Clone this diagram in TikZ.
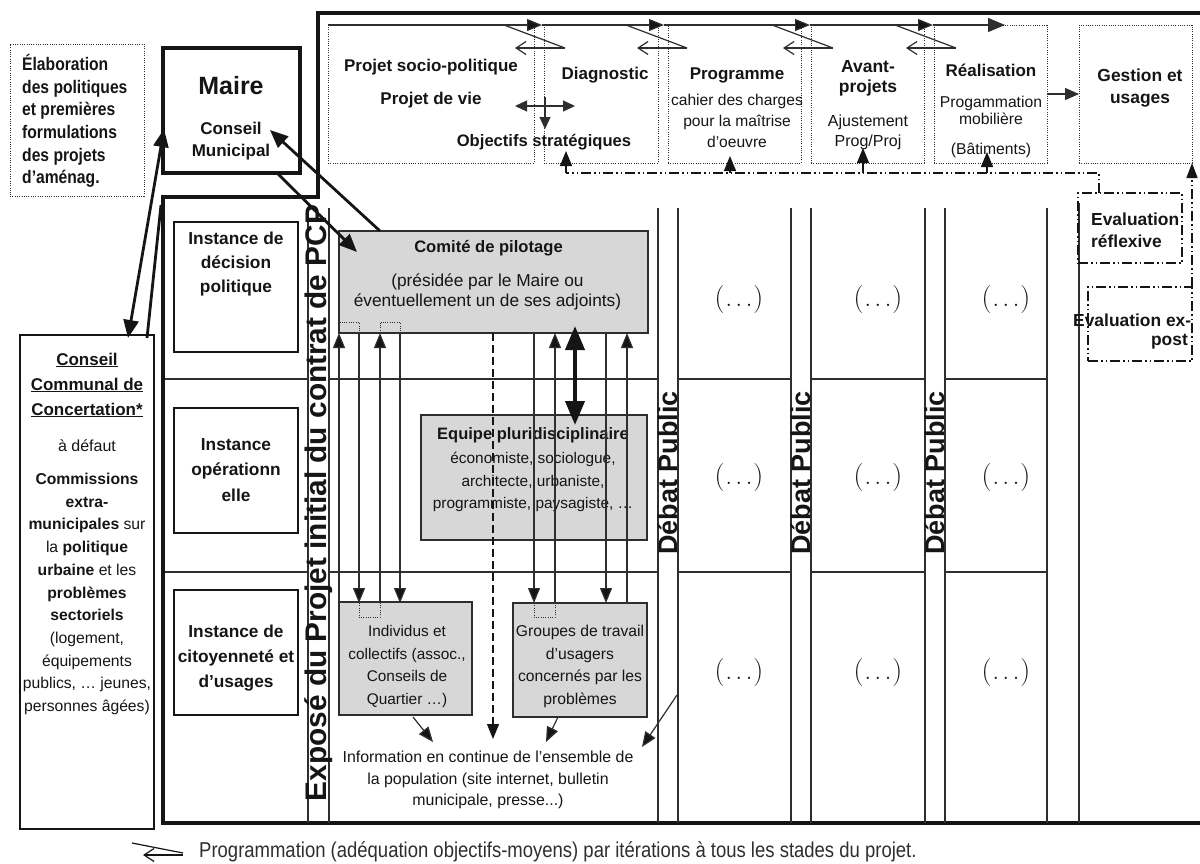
\documentclass[tikz,border=0pt]{standalone}
\usepackage{fontspec}
\setmainfont{Liberation Sans}
\newfontfamily\narrowsf[FakeStretch=0.86]{Liberation Sans}
\newfontfamily\lmroman{Latin Modern Roman}
\usetikzlibrary{arrows.meta,calc}
\definecolor{ink}{HTML}{151515}
\definecolor{rule}{HTML}{2E2E2E}
\definecolor{boxgray}{HTML}{D7D7D7}
\newcommand\fsz[2]{\fontsize{#1pt}{#2pt}\selectfont}
\newcommand\etc{(\kern1pt.\kern3pt.\kern3pt.\kern1pt)}
\begin{document}
\begin{tikzpicture}[x=1pt,y=-1pt,
  frame/.style={draw=ink,line width=4.5pt,line join=miter},
  thinline/.style={draw=rule,line width=1.2pt},
  dotbox/.style={draw=rule,line width=0.9pt,dash pattern=on 1pt off 1.3pt},
  dashdot/.style={draw=ink,line width=1.5pt,dash pattern=on 10pt off 3pt on 1.5pt off 3pt on 1.5pt off 3pt},
  graybox/.style={draw=rule,fill=boxgray,line width=1.2pt},
  plainbox/.style={draw=ink,line width=1.3pt},
  tip/.style={-{Triangle[length=15pt,width=12pt,fill=ink]}},
  barb/.style={-{Straight Barb[length=10pt,width=13pt]}},
  bigtip/.style={line width=2.8pt,-{Triangle[length=18pt,width=15pt]}},
  lbl/.style={inner sep=0pt,align=center,text=ink},
  bold/.style={lbl,font=\bfseries\fsz{17}{22}},
  reg/.style={lbl,font=\fsz{15.6}{20}},
  dots/.style={lbl,font=\lmroman\fsz{28}{32}},
  rot/.style={lbl,rotate=90,font=\bfseries\fsz{27}{30}}]
\useasboundingbox (0,0) rectangle (1200,863);

% ---------- outer frame ----------
\draw[frame] (1200,13) -- (318,13) -- (318,197) -- (163,197) -- (163,823) -- (1200,823);

% ---------- left column ----------
\node[dotbox,minimum width=134pt,minimum height=152pt] (elab) at (77,120) {};
\node[lbl,anchor=west,align=left,font=\narrowsf\bfseries\fsz{18.2}{22.6}] (elabtxt) at (22,121)
  {Élaboration\\des politiques\\et premières\\formulations\\des projets\\d’aménag.};

\node[draw=ink,line width=4pt,minimum width=137pt,minimum height=125pt] (maire) at (231.5,110.5) {};
\node[lbl,font=\bfseries\fsz{25}{28}] (mairetxt) at (231,86) {Maire};
\node[bold] (cm) at (231,141) {Conseil\\Municipal};

\node[plainbox,minimum width=134pt,minimum height=494pt] (ccc) at (87,582) {};
\node[lbl,font=\bfseries\fsz{17}{25}] (ccchead) at (87,385)
  {\underline{Conseil}\\\underline{Communal de}\\\underline{Concertation*}};
\node[lbl,font=\fsz{16}{20}] (defaut) at (87,446) {à défaut};
\node[lbl,font=\fsz{15.7}{22.7}] (commissions) at (87,594)
  {\textbf{Commissions}\\\textbf{extra-}\\\textbf{municipales} sur\\la \textbf{politique}\\\textbf{urbaine} et les\\\textbf{problèmes}\\\textbf{sectoriels}\\(logement,\\équipements\\publics, … jeunes,\\personnes âgées)};

% ---------- instance boxes ----------
\node[plainbox,minimum width=124pt,minimum height=130pt] (inst1) at (236,287) {};
\node[lbl,font=\bfseries\fsz{17.3}{24}] at (236,264) {Instance de\\décision\\politique};
\node[plainbox,minimum width=124pt,minimum height=125pt] (inst2) at (236,470.5) {};
\node[lbl,font=\bfseries\fsz{17.3}{25.5}] at (236,470) {Instance\\opérationn\\elle};
\node[plainbox,minimum width=124pt,minimum height=125pt] (inst3) at (236,652.5) {};
\node[lbl,font=\bfseries\fsz{17.3}{25}] at (236,658) {Instance de\\citoyenneté et\\d’usages};

% ---------- columns and rows ----------
\foreach \x in {308,329,658,678,791,811,925,945,1047}
  \draw[thinline] (\x,208) -- (\x,823);
\draw[thinline] (1079,203) -- (1079,823);
\foreach \y in {379,572}{
  \draw[thinline] (165,\y) -- (308,\y);
  \draw[thinline] (329,\y) -- (658,\y);
  \draw[thinline] (678,\y) -- (791,\y);
  \draw[thinline] (811,\y) -- (925,\y);
  \draw[thinline] (945,\y) -- (1047,\y);
}
\node[rot,font=\bfseries\fsz{29.8}{30}] (expose) at (318.5,503) {Exposé du Projet initial du contrat de PCP};
\node[rot] (debat1) at (668,473) {Débat Public};
\node[rot] (debat2) at (801,473) {Débat Public};
\node[rot] (debat3) at (935,473) {Débat Public};

\foreach \cx in {739,878,1006}
  \foreach \cy in {300,478,673}
    \node[dots] at (\cx,\cy) {\etc};

% ---------- stage boxes ----------
\node[dotbox,minimum width=206pt,minimum height=138pt] (s1) at (431,94) {};
\node[dotbox,minimum width=114pt,minimum height=138pt] (s2) at (601,94) {};
\node[dotbox,minimum width=133pt,minimum height=138pt] (s3) at (734.5,94) {};
\node[dotbox,minimum width=113pt,minimum height=138pt] (s4) at (867.5,94) {};
\node[dotbox,minimum width=113pt,minimum height=138pt] (s5) at (990.5,94) {};
\node[dotbox,minimum width=113pt,minimum height=138pt] (s6) at (1135.5,94) {};

\node[bold] (psp) at (431,67) {Projet socio-politique};
\node[bold] (pdv) at (431,100) {Projet de vie};
\node[bold,font=\bfseries\fsz{16.6}{20}] (obj) at (544,142) {Objectifs stratégiques};
\node[bold] (diag) at (605,75) {Diagnostic};
\node[bold] (prog) at (737,75) {Programme};
\node[reg,font=\fsz{15.6}{21}] (progtxt) at (737,121) {cahier des charges\\pour la maîtrise\\d’oeuvre};
\node[bold,font=\bfseries\fsz{17.5}{20}] (avp) at (868,78) {Avant-\\projets};
\node[reg,font=\fsz{16}{20}] (ajust) at (868,132) {Ajustement\\Prog/Proj};
\node[bold] (real) at (991,70) {Réalisation};
\node[reg,font=\fsz{15.7}{17.5}] (mob) at (991,110.5) {Progammation\\mobilière};
\node[reg,font=\fsz{15.7}{17.5}] (bat) at (991,150) {(Bâtiments)};
\node[bold,font=\bfseries\fsz{17.4}{22}] (gest) at (1140,88) {Gestion et\\usages};

% timeline with iterations
\foreach \b/\p in {542/328,664/542,810/664,933/810}{
  \draw[thinline,tip] (\p,25) -- (\b,25);
  \draw[thinline] (\b-38,25) -- (\b+23,48);
  \draw[thinline,barb] (\b+23,48) -- (\b-27,48);
}
\draw[thinline,-{Triangle[length=17pt,width=14pt]}] (933,25) -- (1005,25);

\draw[thinline,{Triangle[length=12pt,width=11pt]}-{Triangle[length=12pt,width=11pt]}] (515,106) -- (575,106);
\draw[thinline,-{Triangle[length=12pt,width=11pt]}] (545,97) -- (545,129);
\draw[thinline,-{Triangle[length=14pt,width=12pt]}] (1047,94) -- (1079,94);

% ---------- evaluation ----------
\node[dashdot,line width=1.3pt,minimum width=104pt,minimum height=70pt] (refl) at (1130,228) {};
\node[lbl,anchor=west,align=left,font=\bfseries\fsz{17.4}{22}] at (1091,230) {Evaluation\\réflexive};
\node[dashdot,line width=1.3pt,minimum width=104pt,minimum height=74pt] (expost) at (1140,324) {};
\node[lbl,anchor=west,font=\bfseries\fsz{17.4}{22}] at (1073,320) {Evaluation ex-};
\node[lbl,anchor=east,font=\bfseries\fsz{17.4}{22}] at (1188,342) {post};

\draw[dashdot] (1099,193) -- (1099,173) -- (566,173);
\foreach \x/\t in {566/151,730/156,863/148,987/152}
  \draw[draw=ink,line width=1.3pt,-{Triangle[length=15pt,width=12pt]}] (\x,173) -- (\x,\t);
\draw[dashdot,-{Triangle[length=15pt,width=11pt]}] (1192,287) -- (1192,163);

% ---------- gray boxes ----------
\node[graybox,minimum width=309pt,minimum height=102pt] (comite) at (493.5,282) {};
\node[lbl,font=\bfseries\fsz{16.6}{20}] at (488.5,248) {Comité de pilotage};
\node[lbl,font=\fsz{17.3}{20}] at (487.5,292) {(présidée par le Maire ou\\éventuellement un de ses adjoints)};

\node[graybox,minimum width=226pt,minimum height=125pt] (equipe) at (534,477.5) {};
\node[lbl,font=\bfseries\fsz{16.5}{22}] at (533,435) {Equipe pluridisciplinaire};
\node[lbl,font=\fsz{15.4}{22.5}] at (533,482) {économiste, sociologue,\\architecte, urbaniste,\\programmiste, paysagiste, …};

\node[graybox,minimum width=133pt,minimum height=113pt] (indiv) at (405.5,658.5) {};
\node[lbl,font=\fsz{15.4}{22.4}] at (407,666.5) {Individus et\\collectifs (assoc.,\\Conseils de\\Quartier …)};
\node[graybox,minimum width=134pt,minimum height=114pt] (groupes) at (580,660) {};
\node[lbl,font=\fsz{15.7}{22.4}] at (580,666.5) {Groupes de travail\\d’usagers\\concernés par les\\problèmes};

\node[lbl,font=\fsz{15.9}{21.5}] (info) at (488,780) {Information en continue de l’ensemble de\\la population (site internet, bulletin\\municipale, presse...)};

% ---------- exchanges between instances ----------
\foreach \x in {339,380,555,627}
  \draw[thinline,tip] (\x,603) -- (\x,333);
\foreach \x in {359,400,534,606}
  \draw[thinline,tip] (\x,333) -- (\x,603);
\draw[dotbox] (339,333) -- (339,322) -- (359,322) -- (359,333);
\draw[dotbox] (380,333) -- (380,322) -- (400,322) -- (400,333);
\draw[dotbox] (359,603) -- (359,617) -- (380,617) -- (380,603);
\draw[dotbox] (534,603) -- (534,617) -- (555,617) -- (555,603);

\draw[draw=ink,line width=1.2pt,dash pattern=on 8pt off 4pt,-{Triangle[length=15pt,width=12pt]}] (493,333) -- (493,739);
\draw[draw=ink,line width=4pt,{Triangle[length=24pt,width=19pt]}-{Triangle[length=24pt,width=19pt]}] (575,326) -- (575,425);

\draw[thinline,tip] (413,717) -- (433,742);
\draw[thinline,tip] (558,717) -- (546,742);
\draw[thinline,tip] (677,695) -- (642,747);

% ---------- links with the mayor ----------
\draw[draw=ink,bigtip] (380,231) -- (270,130);
\draw[draw=ink,bigtip] (277,173) -- (357,252);
\draw[draw=ink,line width=2.8pt,{Triangle[length=18pt,width=15pt]}-{Triangle[length=18pt,width=15pt]}] (164,129) -- (128,338);
\draw[draw=ink,line width=2.8pt] (147,338) -- (161,205);

% ---------- legend ----------
\draw[draw=ink,line width=1.2pt] (132,843) -- (183,853);
\draw[draw=ink,line width=1.2pt,barb] (183,855) -- (143,855);
\node[lbl,anchor=west,text=rule] (legend) at (199,852)
  {\scalebox{0.86}[1]{\fsz{21.5}{24}Programmation (adéquation objectifs-moyens) par itérations à tous les stades du projet.}};
\end{tikzpicture}
\end{document}
